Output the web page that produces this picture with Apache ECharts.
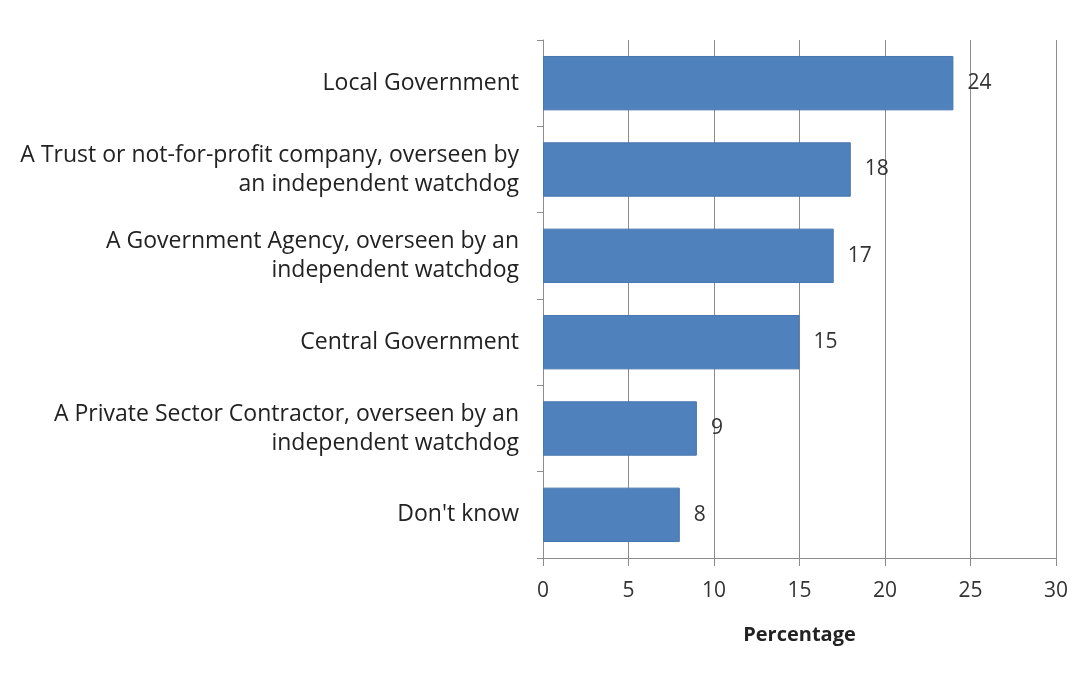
<!DOCTYPE html>
<html>
<head>
<meta charset="utf-8">
<script src="https://cdn.jsdelivr.net/npm/echarts@6/dist/echarts.min.js"></script>
<style>
  html, body { margin: 0; padding: 0; background: #fff; }
  #chart { width: 1087px; height: 675px; }
</style>
</head>
<body>
<div id="chart"></div>
<script>
// Preferred body to oversee the service (percentage of respondents)
const categories = [
  'Local Government',
  'A Trust or not-for-profit company, overseen by\nan independent watchdog',
  'A Government Agency, overseen by an\nindependent watchdog',
  'Central Government',
  'A Private Sector Contractor, overseen by an\nindependent watchdog',
  "Don't know"
];
const values = [24, 18, 17, 15, 9, 8];
const xTicks = { min: 0, max: 30, interval: 5 };
const axisTitle = 'Percentage';

const FONT = '"Open Sans", sans-serif';
const chart = echarts.init(document.getElementById('chart'));

chart.setOption({
  animation: false,
  backgroundColor: '#ffffff',
  grid: { left: 543, right: 31, top: 40, bottom: 117, containLabel: false },
  xAxis: {
    type: 'value',
    min: xTicks.min,
    max: xTicks.max,
    interval: xTicks.interval,
    name: axisTitle,
    nameLocation: 'middle',
    nameGap: 67,
    nameTextStyle: { fontFamily: FONT, fontSize: 20, fontWeight: 'bold', color: '#222' },
    axisLine: { show: true, lineStyle: { color: '#8c8c8c', width: 1 } },
    axisTick: { show: true, length: 8, lineStyle: { color: '#8c8c8c' } },
    axisLabel: { fontFamily: FONT, fontSize: 21, color: '#333', margin: 23 },
    splitLine: { show: true, lineStyle: { color: '#8c8c8c', width: 1 } }
  },
  yAxis: {
    type: 'category',
    inverse: true,
    data: categories,
    axisLine: { show: true, lineStyle: { color: '#8c8c8c', width: 1 } },
    axisTick: { show: true, length: 6, lineStyle: { color: '#8c8c8c' } },
    axisLabel: {
      fontFamily: FONT, fontSize: 23, color: '#222', margin: 24,
      align: 'right', lineHeight: 29
    },
    splitLine: { show: false }
  },
  series: [{
    type: 'bar',
    data: values,
    barCategoryGap: '37%',
    itemStyle: { color: '#4f81bd', borderColor: '#4676b0', borderWidth: 1 },
    label: {
      show: true,
      position: 'right',
      distance: 14,
      fontFamily: FONT,
      fontSize: 21,
      color: '#333'
    }
  }]
});
</script>
</body>
</html>
